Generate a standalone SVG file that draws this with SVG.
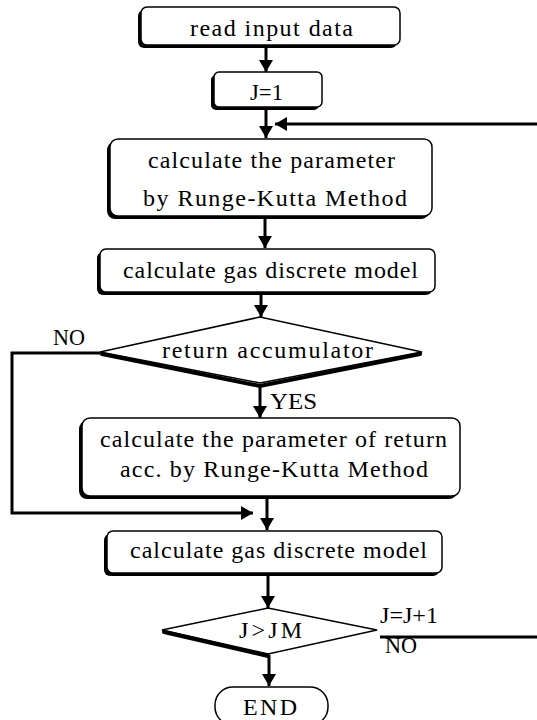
<svg xmlns="http://www.w3.org/2000/svg" width="537" height="720" viewBox="0 0 537 720">
<defs>
<marker id="ah" markerWidth="12" markerHeight="14" refX="12" refY="7" orient="auto" markerUnits="userSpaceOnUse">
<path d="M0,0 L12,7 L0,14 Z" fill="#000"/>
</marker>
<style>
.box{fill:#fff;stroke:#000;stroke-width:1.5}
.sh{fill:#000}
.dia{fill:#fff;stroke:#000;stroke-width:1.5}
.dsh{fill:none;stroke:#000;stroke-width:4;stroke-linecap:round}
.t{font-family:"Liberation Serif","Times New Roman",serif;font-size:24px;fill:#000}
.s{font-size:23px}
.ln{fill:none;stroke:#000;stroke-width:3}
</style>
</defs>
<rect width="537" height="720" fill="#fff"/>
<g id="connectors">
<line class="ln" x1="266" y1="45" x2="266" y2="72" marker-end="url(#ah)"/>
<line class="ln" x1="266" y1="110" x2="266" y2="138" marker-end="url(#ah)"/>
<path class="ln" d="M380,637 H545 V124 H275" marker-end="url(#ah)"/>
<line class="ln" x1="265" y1="216" x2="265" y2="248" marker-end="url(#ah)"/>
<line class="ln" x1="261" y1="292" x2="261" y2="317" marker-end="url(#ah)"/>
<path class="ln" d="M100,353 H12 V513 H253" marker-end="url(#ah)"/>
<line class="ln" x1="260" y1="384" x2="260" y2="418" marker-end="url(#ah)"/>
<line class="ln" x1="267" y1="498" x2="267" y2="530" marker-end="url(#ah)"/>
<line class="ln" x1="268" y1="574" x2="268" y2="608" marker-end="url(#ah)"/>
<line class="ln" x1="269" y1="655" x2="269" y2="686" marker-end="url(#ah)"/>
<text class="t s" x="53" y="345" textLength="32" lengthAdjust="spacingAndGlyphs">NO</text>
<text class="t s" x="270" y="409" textLength="47" lengthAdjust="spacingAndGlyphs">YES</text>
<text class="t s" x="380" y="623" textLength="58" lengthAdjust="spacingAndGlyphs">J=J+1</text>
<text class="t s" x="385" y="653" textLength="32" lengthAdjust="spacingAndGlyphs">NO</text>
</g>
<g id="read">
<rect class="sh" x="138" y="10" width="259" height="38" rx="6"/>
<rect class="box" x="141" y="7" width="259" height="38" rx="6"/>
<text class="t" x="190" y="36" textLength="163" lengthAdjust="spacing">read input data</text>
</g>
<g id="j1">
<rect class="sh" x="211" y="75" width="108" height="35" rx="5"/>
<rect class="box" x="214" y="72" width="108" height="35" rx="5"/>
<text class="t" x="250" y="100" textLength="33" lengthAdjust="spacingAndGlyphs">J=1</text>
</g>
<g id="rk">
<rect class="sh" x="107" y="142" width="322" height="77" rx="8"/>
<rect class="box" x="110" y="139" width="322" height="77" rx="8"/>
<text class="t" x="148" y="168" textLength="247" lengthAdjust="spacing">calculate the parameter</text>
<text class="t" x="143" y="206" textLength="264" lengthAdjust="spacing">by Runge-Kutta Method</text>
</g>
<g id="gas1">
<rect class="sh" x="97" y="252" width="335" height="43" rx="6"/>
<rect class="box" x="100" y="249" width="335" height="43" rx="6"/>
<text class="t" x="123" y="278" textLength="295" lengthAdjust="spacing">calculate gas discrete model</text>
</g>
<g id="retacc">
<polygon class="dia" points="100,352 260,317 422,352 260,383"/>
<polyline class="dsh" points="102,354 260,386 420,354"/>
<text class="t" x="162" y="358" textLength="211" lengthAdjust="spacing">return accumulator</text>
</g>
<g id="rkret">
<rect class="sh" x="79" y="421" width="378" height="78" rx="8"/>
<rect class="box" x="82" y="418" width="378" height="78" rx="8"/>
<text class="t" x="100" y="447" textLength="347" lengthAdjust="spacing">calculate the parameter of return</text>
<text class="t" x="120" y="477" textLength="308" lengthAdjust="spacing">acc. by Runge-Kutta Method</text>
</g>
<g id="gas2">
<rect class="sh" x="104" y="534" width="335" height="42" rx="6"/>
<rect class="box" x="107" y="531" width="335" height="42" rx="6"/>
<text class="t" x="130" y="558" textLength="297" lengthAdjust="spacing">calculate gas discrete model</text>
</g>
<g id="jm">
<polygon class="dia" points="162,630 268,608 377,630 268,654"/>
<polyline class="dsh" points="164,632 268,656"/>
<text class="t" x="239" y="638" textLength="63" lengthAdjust="spacing">J&gt;JM</text>
</g>
<g id="end">
<rect class="box" x="215" y="687" width="113" height="38" rx="18"/>
<text class="t" x="243" y="715" textLength="54" lengthAdjust="spacing">END</text>
</g>
</svg>
